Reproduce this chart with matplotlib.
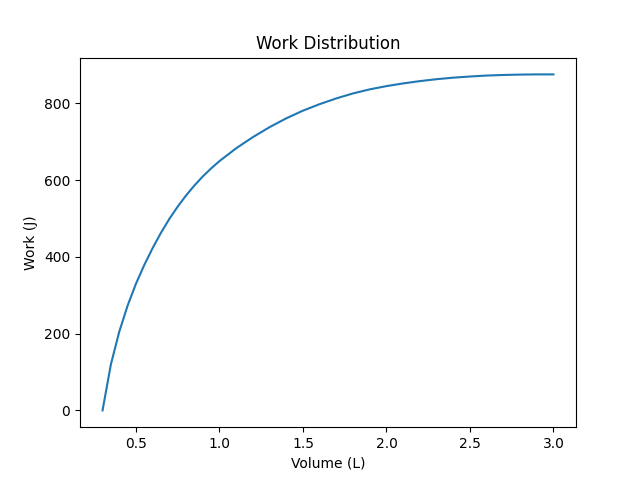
import matplotlib
matplotlib.use("Agg")
import matplotlib.pyplot as plt

volume = [0.30, 0.35, 0.40, 0.45, 0.50, 0.55, 0.60, 0.65, 0.70,
          0.75, 0.80, 0.85, 0.90, 0.95, 1.00, 1.10, 1.20, 1.30, 1.40, 1.50,
          1.60, 1.70, 1.80, 1.90, 2.00, 2.10, 2.20, 2.30, 2.40, 2.50, 2.60,
          2.70, 2.80, 2.90, 3.00]
work = [0, 120, 205, 273, 330, 379, 423, 463, 499,
        531, 560, 586, 609.5, 630.5, 649.5, 683, 712, 738, 761, 781,
        798, 813, 826, 836.5, 845, 852, 858, 863, 867, 870, 872.5,
        874, 875, 875.5, 875.5]

fig, ax = plt.subplots(figsize=(6.4, 4.8), dpi=100)
ax.plot(volume, work)
ax.set_title("Work Distribution")
ax.set_xlabel("Volume (L)")
ax.set_ylabel("Work (J)")
fig.savefig("out.png")
